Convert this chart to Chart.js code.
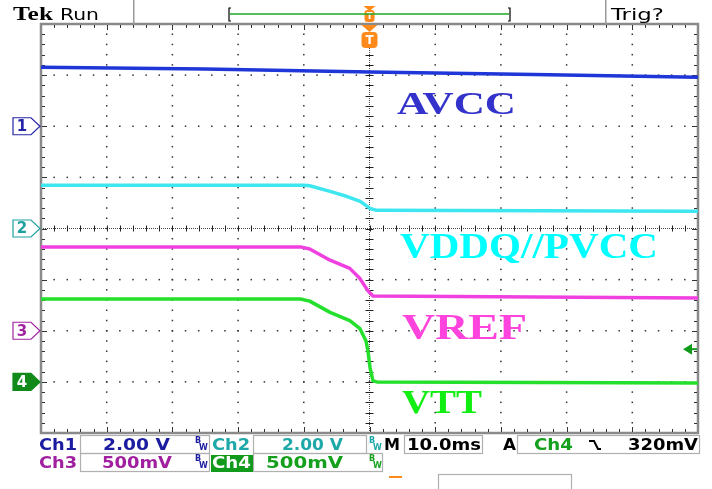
<!DOCTYPE html>
<html>
<head>
<meta charset="utf-8">
<script src="https://cdn.jsdelivr.net/npm/chart.js@4.4.0/dist/chart.umd.min.js"></script>
<style>
html, body { margin: 0; padding: 0; background: #fff; overflow: hidden; }
canvas { display: block; }
</style>
</head>
<body>
<canvas id="scope" width="712" height="489"></canvas>
<script>
// Time base: 10 ms/div, trigger at screen centre (t = 0)
const avccTime = [-50, -25, 0, 25, 50];
const avccVolts = [2.31, 2.24, 2.12, 2.02, 1.92];            // Ch1, 2.00 V/div

const vddqTime = [-50, -10, -9.1, -6.0, -3.4, -1.4, 0.1, 1.1, 50];
const vddqVolts = [1.69, 1.69, 1.67, 1.45, 1.25, 1.06, 0.78, 0.71, 0.67];   // Ch2, 2.00 V/div

const vrefTime = [-50, -10.5, -9.1, -6.0, -3.0, -1.45, -0.23, 0.53, 50];
const vrefVolts = [0.82, 0.82, 0.80, 0.69, 0.61, 0.51, 0.39, 0.34, 0.32];   // Ch3, 500 mV/div

const vttTime = [-50, -10.5, -9.1, -6.0, -3.0, -1.45, -0.53, -0.23, 0.08, 0.53, 1.14, 50];
const vttVolts = [0.81, 0.81, 0.79, 0.68, 0.60, 0.52, 0.40, 0.30, 0.14, 0.01, 0.0, -0.01]; // Ch4, 500 mV/div

const traceNames = ['AVCC', 'VDDQ//PVCC', 'VREF', 'VTT'];
const triggerLevel = 0.32; // Ch4 falling edge, 320 mV

function points(t, v) {
    return t.map((x, i) => ({ x: x, y: v[i] }));
}

// draw a string squeezed/stretched to a given width
function stretchText(ctx, str, x, base, w, font, color) {
    ctx.font = font;
    const m = ctx.measureText(str).width;
    ctx.save();
    ctx.translate(x, base);
    ctx.scale(w / m, 1);
    ctx.fillStyle = color;
    ctx.textBaseline = 'alphabetic';
    ctx.textAlign = 'left';
    ctx.fillText(str, 0, 0);
    ctx.restore();
}

// graticule drawn before the traces
const graticule = {
    id: 'graticule',
    beforeDatasetsDraw(chart) {
        const ctx = chart.ctx;
        const a = chart.chartArea;
        const w = a.right - a.left, h = a.bottom - a.top;
        const cx = chart.scales.x.getPixelForValue(0);
        const cy = (a.top + a.bottom) / 2;
        ctx.save();
        // dotted major lines
        ctx.fillStyle = '#333';
        for (let i = 1; i < 10; i++) {
            if (i === 5) continue;
            const x = a.left + i * w / 10;
            for (let k = 1; k < 40; k++) ctx.fillRect(x - 0.75, a.top + k * h / 40 - 0.75, 1.5, 1.5);
        }
        for (let j = 1; j < 8; j++) {
            if (j === 4) continue;
            const y = a.top + j * h / 8;
            for (let k = 1; k < 50; k++) ctx.fillRect(a.left + k * w / 50 - 0.75, y - 0.75, 1.5, 1.5);
        }
        // centre cross with minor ticks
        ctx.strokeStyle = '#444';
        ctx.lineWidth = 1;
        ctx.setLineDash([1, 1]);
        ctx.beginPath();
        ctx.moveTo(cx, a.top); ctx.lineTo(cx, a.bottom);
        ctx.moveTo(a.left, cy); ctx.lineTo(a.right, cy);
        ctx.stroke();
        ctx.setLineDash([]);
        ctx.strokeStyle = '#222';
        ctx.beginPath();
        for (let k = 1; k < 40; k++) {
            const y = Math.round(a.top + k * h / 40) + 0.5;
            ctx.moveTo(cx - 4, y); ctx.lineTo(cx + 4, y);
        }
        for (let k = 1; k < 50; k++) {
            const x = Math.round(a.left + k * w / 50) + 0.5;
            ctx.moveTo(x, cy - 3); ctx.lineTo(x, cy + 3);
        }
        ctx.stroke();
        // border with inward ticks
        ctx.strokeStyle = '#8a8a8a';
        ctx.lineWidth = 2.5;
        ctx.strokeRect(a.left, a.top, w, h);
        ctx.strokeStyle = '#333';
        ctx.lineWidth = 1;
        ctx.beginPath();
        for (let k = 1; k < 50; k++) {
            const x = Math.round(a.left + k * w / 50) + 0.5;
            const len = (k % 5 === 0) ? 5 : 3;
            ctx.moveTo(x, a.top + 1); ctx.lineTo(x, a.top + 1 + len);
            ctx.moveTo(x, a.bottom - 1); ctx.lineTo(x, a.bottom - 1 - len);
        }
        for (let k = 1; k < 40; k++) {
            const y = Math.round(a.top + k * h / 40) + 0.5;
            const len = (k % 5 === 0) ? 5 : 3;
            ctx.moveTo(a.left + 1, y); ctx.lineTo(a.left + 1 + len, y);
            ctx.moveTo(a.right - 1, y); ctx.lineTo(a.right - 1 - len, y);
        }
        ctx.stroke();
        ctx.restore();
    }
};

// labels, channel markers, status bars
const decorations = {
    id: 'decorations',
    afterDraw(chart) {
        const ctx = chart.ctx;
        const a = chart.chartArea;
        const s = chart.scales;
        ctx.save();

        // trace names
        stretchText(ctx, traceNames[0], 397, 114, 119, 'bold 32px "Liberation Serif"', '#3333cc');
        stretchText(ctx, traceNames[1], 400, 258, 258, 'bold 35px "Liberation Serif"', '#00ffff');
        stretchText(ctx, traceNames[2], 402, 339, 125, 'bold 36px "Liberation Serif"', '#ff44dd');
        stretchText(ctx, traceNames[3], 402, 413, 80, 'bold 33px "Liberation Serif"', '#11ee11');

        // channel ground markers
        const marks = [
            { id: 'y1', n: '1', c: '#2424a8', fill: false },
            { id: 'y2', n: '2', c: '#1fa0a0', fill: false },
            { id: 'y3', n: '3', c: '#a024a0', fill: false },
            { id: 'y4', n: '4', c: '#118a1a', fill: true }
        ];
        marks.forEach(m => {
            const y = s[m.id].getPixelForValue(0);
            ctx.beginPath();
            ctx.moveTo(13, y - 8.5); ctx.lineTo(31, y - 8.5); ctx.lineTo(40, y);
            ctx.lineTo(31, y + 8.5); ctx.lineTo(13, y + 8.5); ctx.closePath();
            ctx.fillStyle = m.fill ? m.c : '#fff';
            ctx.fill();
            ctx.strokeStyle = m.c;
            ctx.lineWidth = 1.2;
            ctx.stroke();
            ctx.fillStyle = m.fill ? '#fff' : m.c;
            ctx.font = 'bold 15px "DejaVu Sans"';
            ctx.textAlign = 'center';
            ctx.textBaseline = 'middle';
            ctx.fillText(m.n, 22, y + 1);
        });

        // trigger level arrow (right edge)
        const ty = s.y4.getPixelForValue(triggerLevel);
        ctx.fillStyle = '#119a1a';
        ctx.beginPath();
        ctx.moveTo(683, ty); ctx.lineTo(692, ty - 5.5); ctx.lineTo(692, ty + 5.5); ctx.closePath();
        ctx.fill();
        ctx.fillRect(690, ty - 1, 7, 2);

        // trigger position markers (orange T)
        const tx = s.x.getPixelForValue(0);
        ctx.fillStyle = '#ff8a1c';
        ctx.beginPath();
        ctx.moveTo(tx - 6, 6); ctx.lineTo(tx + 6, 6); ctx.lineTo(tx, 11); ctx.closePath(); ctx.fill();
        ctx.beginPath(); ctx.roundRect(tx - 5, 10, 10, 12, 3); ctx.fill();
        ctx.beginPath();
        ctx.moveTo(tx - 8, a.top + 1); ctx.lineTo(tx + 8, a.top + 1); ctx.lineTo(tx, a.top + 8); ctx.closePath(); ctx.fill();
        ctx.beginPath(); ctx.roundRect(tx - 8, a.top + 8, 16, 16, 4); ctx.fill();
        ctx.fillStyle = '#fff';
        ctx.font = 'bold 12px "DejaVu Sans"';
        ctx.textAlign = 'center';
        ctx.textBaseline = 'middle';
        ctx.fillText('T', tx, a.top + 16.5);
        ctx.font = 'bold 9px "DejaVu Sans"';
        ctx.fillText('T', tx, 16.5);

        // top bar
        ctx.textAlign = 'left';
        ctx.textBaseline = 'alphabetic';
        stretchText(ctx, 'Tek', 13, 20, 40, 'bold 18px "Liberation Serif"', '#000');
        stretchText(ctx, 'Run', 60, 20, 39, '16px "DejaVu Sans"', '#000');
        stretchText(ctx, 'Trig?', 611, 20, 53, '16px "DejaVu Sans"', '#000');
        ctx.fillStyle = '#999';
        ctx.fillRect(133, 0, 1.5, 24);
        ctx.fillRect(605, 0, 1.5, 24);
        ctx.strokeStyle = '#1faa22';
        ctx.lineWidth = 1.5;
        ctx.beginPath(); ctx.moveTo(230, 14); ctx.lineTo(509, 14); ctx.stroke();
        ctx.strokeStyle = '#000';
        ctx.lineWidth = 1.2;
        ctx.beginPath();
        ctx.moveTo(231, 8); ctx.lineTo(229, 8); ctx.lineTo(229, 21); ctx.lineTo(231, 21);
        ctx.moveTo(508, 8); ctx.lineTo(510, 8); ctx.lineTo(510, 21); ctx.lineTo(508, 21);
        ctx.stroke();

        // bottom status boxes
        ctx.strokeStyle = '#b0b0b0';
        ctx.lineWidth = 1.2;
        [[80, 435, 129, 18], [80, 453, 129, 18], [253, 435, 113, 18], [253, 453, 129, 18],
         [404, 435, 78, 18], [517, 435, 182, 18], [438, 474, 133, 20]].forEach(b => ctx.strokeRect(b[0] + 0.5, b[1] + 0.5, b[2], b[3]));
        ctx.fillStyle = '#129a1c';
        ctx.fillRect(211, 455, 42, 17);

        const f = 'bold 16px "DejaVu Sans"';
        const r1 = 450, r2 = 468;
        stretchText(ctx, 'Ch1', 39, r1, 38, f, '#1c1ca0');
        stretchText(ctx, '2.00 V', 103, r1, 67, f, '#1c1ca0');
        stretchText(ctx, 'Ch2', 212, r1, 38, f, '#1fa8a8');
        stretchText(ctx, '2.00 V', 282, r1, 61, f, '#1fa8a8');
        stretchText(ctx, 'M', 384, r1, 16, f, '#000');
        stretchText(ctx, '10.0ms', 407, r1, 74, f, '#000');
        stretchText(ctx, 'A', 503, r1, 13, f, '#000');
        stretchText(ctx, 'Ch4', 534, r1, 39, f, '#14a01c');
        stretchText(ctx, '320mV', 628, r1, 70, f, '#000');
        stretchText(ctx, 'Ch3', 39, r2, 38, f, '#a020a0');
        stretchText(ctx, '500mV', 102, r2, 70, f, '#a020a0');
        stretchText(ctx, 'Ch4', 212, r2, 39, f, '#fff');
        stretchText(ctx, '500mV', 266, r2, 77, f, '#14a01c');

        // falling edge symbol
        ctx.strokeStyle = '#000';
        ctx.lineWidth = 2;
        ctx.beginPath();
        ctx.moveTo(589, 441); ctx.lineTo(594, 441); ctx.lineTo(598, 449); ctx.lineTo(601, 449);
        ctx.stroke();

        // bandwidth-limit marks
        [[195, 437, '#1c1ca0'], [369, 437, '#1fa8a8'], [195, 455, '#1c1ca0'], [369, 455, '#14a01c']].forEach(p => {
            ctx.fillStyle = p[2];
            ctx.font = 'bold 8px "DejaVu Sans"';
            ctx.textBaseline = 'top';
            ctx.fillText('B', p[0], p[1]);
            ctx.fillText('W', p[0] + 4, p[1] + 7);
        });

        // orange stub at the bottom
        ctx.fillStyle = '#ff8a1c';
        ctx.fillRect(389, 476, 13, 2);
        ctx.restore();
    }
};

function trace(label, t, v, axis, color) {
    return {
        label: label,
        data: points(t, v),
        yAxisID: axis,
        borderColor: color,
        borderWidth: 3.5,
        pointRadius: 0,
        tension: 0,
        borderJoinStyle: 'round',
        fill: false
    };
}

const ctx = document.getElementById('scope').getContext('2d');
const chart = new Chart(ctx, {
    type: 'line',
    data: {
        datasets: [
            trace(traceNames[0], avccTime, avccVolts, 'y1', '#1f36d8'),
            trace(traceNames[1], vddqTime, vddqVolts, 'y2', '#3ee6f0'),
            trace(traceNames[2], vrefTime, vrefVolts, 'y3', '#f040e0'),
            trace(traceNames[3], vttTime, vttVolts, 'y4', '#24e02c')
        ]
    },
    options: {
        responsive: false,
        animation: false,
        layout: { padding: { left: 41, right: 14, top: 24, bottom: 56 } },
        plugins: { legend: { display: false }, tooltip: { enabled: false } },
        scales: {
            x: { type: 'linear', min: -50, max: 50, display: false },
            y1: { type: 'linear', min: -12, max: 4, display: false },
            y2: { type: 'linear', min: -8, max: 8, display: false },
            y3: { type: 'linear', min: -1, max: 3, display: false },
            y4: { type: 'linear', min: -0.5, max: 3.5, display: false }
        }
    },
    plugins: [graticule, decorations]
});
</script>
</body>
</html>
